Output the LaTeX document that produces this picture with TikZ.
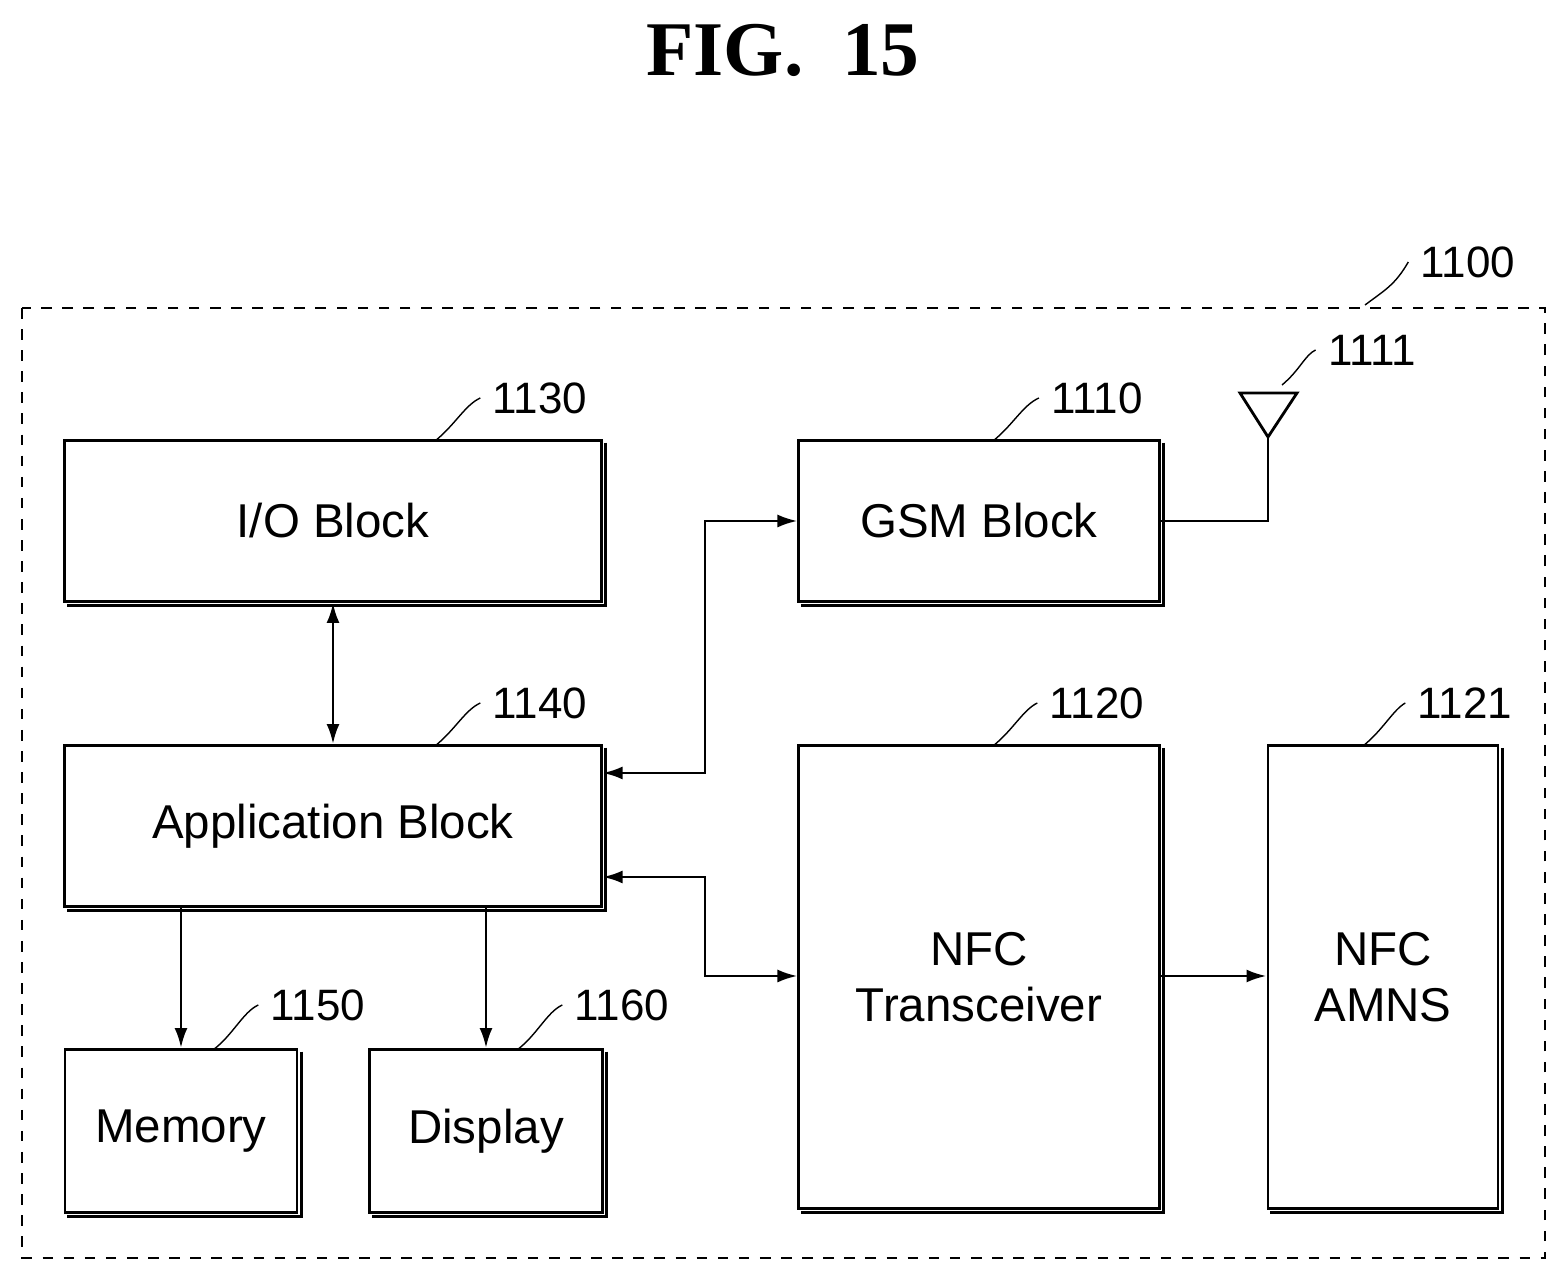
\documentclass[tikz,border=0pt]{standalone}
\usepackage{fontspec}
\setmainfont{Liberation Sans}
\newfontfamily\titlefont{Liberation Serif}
\usetikzlibrary{arrows.meta}
\begin{document}
\begin{tikzpicture}[x=0.01cm,y=-0.01cm,
	blk/.style={draw,thick,inner sep=0pt,font=\fontsize{13.5}{16}\selectfont,align=center},
	num/.style={font=\fontsize{12.5}{14}\selectfont},
	lead/.style={thin},
	conn/.style={thick,-{Latex[length=2mm,width=1.3mm]}},
	conn2/.style={thick,{Latex[length=2mm,width=1.3mm]}-{Latex[length=2mm,width=1.3mm]}}]
	\useasboundingbox (0,0) rectangle (1566,1280);
	\node[font=\titlefont\bfseries\fontsize{22}{26}\selectfont] (title) at (783,50) {FIG.~~15};
	\draw[dashed,thick] (22,308) rectangle (1545,1258);

	% blocks
	\node[blk, minimum width=5.36cm, minimum height=1.61cm] (io)  at (333,521) {I/O Block};
	\node[blk, minimum width=3.60cm, minimum height=1.61cm] (gsm) at (979,521) {GSM Block};
	\node[blk, minimum width=5.36cm, minimum height=1.61cm] (app) at (333,826) {Application Block};
	\node[blk, minimum width=3.60cm, minimum height=4.62cm] (nfc) at (979,977) {NFC\\Transceiver};
	\node[blk, minimum width=2.30cm, minimum height=4.62cm] (amns) at (1383,977) {NFC\\AMNS};
	\node[blk, minimum width=2.32cm, minimum height=1.63cm] (mem) at (181,1131) {Memory};
	\node[blk, minimum width=2.33cm, minimum height=1.63cm] (disp) at (486,1131) {Display};

	% shadows
	\foreach \b in {io,gsm,app,nfc,amns,mem,disp}
		\draw[thick] ([xshift=0.8pt,yshift=-1pt]\b.north east) -- ([xshift=0.8pt,yshift=-0.8pt]\b.south east) -- ([xshift=1pt,yshift=-0.8pt]\b.south west);

	% reference numbers
	\node[num] (n1100) at (1468,262) {1100};
	\node[num] (n1130) at (540,398) {1130};
	\node[num] (n1110) at (1097,398) {1110};
	\node[num] (n1111) at (1372,350) {1111};
	\node[num] (n1140) at (540,703) {1140};
	\node[num] (n1120) at (1097,703) {1120};
	\node[num] (n1121) at (1465,703) {1121};
	\node[num] (n1150) at (318,1005) {1150};
	\node[num] (n1160) at (622,1005) {1160};
	\draw[lead] (1365,305) .. controls (1385,290) and (1395,285) .. (n1100.west);
	\draw[lead] (435,441) .. controls (455,425) and (465,405) .. (n1130.west);
	\draw[lead] (993,441) .. controls (1013,425) and (1023,405) .. (n1110.west);
	\draw[lead] (1282,385) .. controls (1300,370) and (1305,355) .. (n1111.west);
	\draw[lead] (435,746) .. controls (455,730) and (465,710) .. (n1140.west);
	\draw[lead] (993,746) .. controls (1013,730) and (1023,710) .. (n1120.west);
	\draw[lead] (1363,746) .. controls (1383,730) and (1393,710) .. (n1121.west);
	\draw[lead] (213,1050) .. controls (233,1035) and (243,1012) .. (n1150.west);
	\draw[lead] (517,1050) .. controls (537,1035) and (547,1012) .. (n1160.west);

	% antenna
	\coordinate (ant) at (1268,437);
	\draw[thick] (1240,393) -- (1297,393) -- (ant) -- cycle;
	\draw[thick] (gsm.east) -- (1268,521) -- (ant);

	% connectors
	\draw[conn2] (io.south) -- (app.north);
	\draw[conn2] (app.east |- 0,773) -| (705,521) -- (gsm.west);
	\draw[conn2] (app.east |- 0,877) -| (705,976) -- (nfc.west |- 0,976);
	\draw[conn] (nfc.east |- 0,976) -- (amns.west |- 0,976);
	\draw[conn] (app.south -| mem) -- (mem.north);
	\draw[conn] (app.south -| disp) -- (disp.north);
\end{tikzpicture}
\end{document}
